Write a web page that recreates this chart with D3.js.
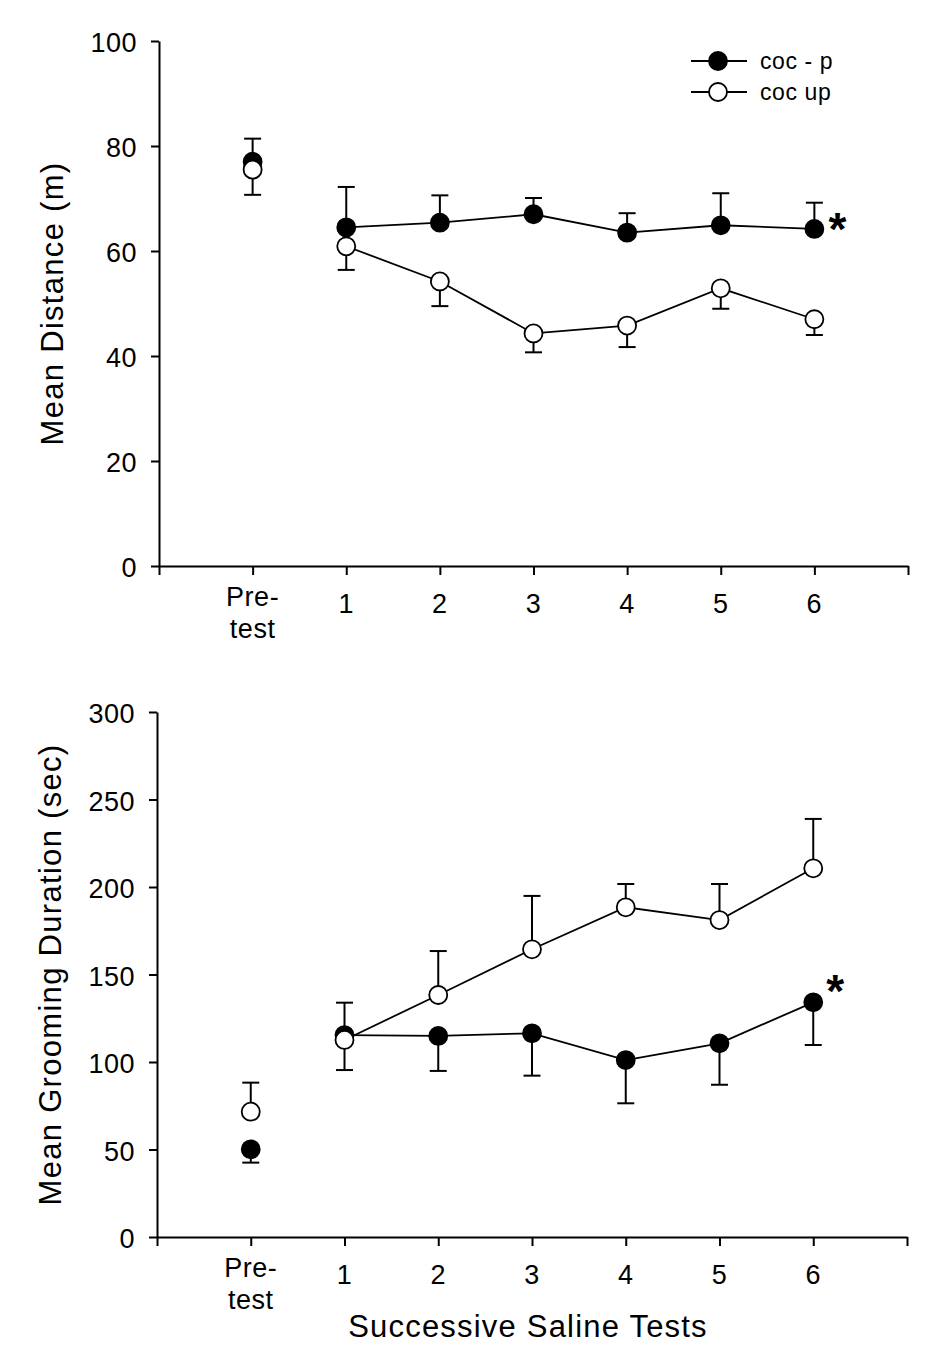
<!DOCTYPE html>
<html><head><meta charset="utf-8">
<script src="https://cdn.jsdelivr.net/npm/d3@7"></script>
<style>
body{margin:0;background:#fff}
svg{display:block;background:#fff}
text{font-family:"Liberation Sans",Arial,Helvetica,sans-serif;fill:#000}
</style>
</head><body>
<svg id="chart" width="941" height="1372"></svg>
<script>
// ---------- DATA ----------
const categories = ["Pre-test", "1", "2", "3", "4", "5", "6"];
const xTickLabels = ["", "Pre-\ntest", "1", "2", "3", "4", "5", "6", ""];
const seriesNames = ["coc - p", "coc up"];

// Panel A: Mean Distance (m)
const distCocP     = [77.0, 64.5, 65.4, 67.0, 63.5, 64.9, 64.2];
const distCocPErr  = [4.4, 7.7, 5.2, 3.1, 3.7, 6.1, 5.0];
const distCocUp    = [75.5, 60.9, 54.2, 44.3, 45.8, 52.9, 47.0];
const distCocUpErr = [4.8, 4.5, 4.7, 3.6, 4.1, 3.9, 3.0];
const distTicks    = [0, 20, 40, 60, 80, 100];

// Panel B: Mean Grooming Duration (sec)
const groomCocP     = [50.1, 115.4, 114.9, 116.4, 101.1, 110.7, 134.1];
const groomCocPErr  = [7.6, 20.0, 20.0, 24.2, 24.7, 23.7, 24.4];
const groomCocUp    = [71.6, 112.6, 138.3, 164.4, 188.4, 181.1, 210.7];
const groomCocUpErr = [16.6, 21.3, 25.1, 30.5, 13.3, 20.6, 28.2];
const groomTicks    = [0, 50, 100, 150, 200, 250, 300];

const yTitles = ["Mean Distance (m)", "Mean Grooming Duration (sec)"];
const xTitle = "Successive Saline Tests";
const starLabel = "*";

// ---------- DRAW ----------
const svg = d3.select("#chart");

function drawPanel(cfg) {
  const g = svg.append("g");
  const x = d3.scaleLinear().domain([0, 8]).range([cfg.left, cfg.right]);
  const y = d3.scaleLinear().domain([0, d3.max(cfg.ticks)]).range([cfg.bottom, cfg.top]);

  // y axis
  const ya = g.append("g").attr("transform", `translate(${cfg.left},0)`)
    .call(d3.axisLeft(y).tickValues(cfg.ticks).tickSize(8).tickSizeOuter(0).tickPadding(14));
  ya.select(".domain").attr("stroke", "#000").attr("stroke-width", 2);
  ya.selectAll(".tick line").attr("stroke", "#000").attr("stroke-width", 2);
  ya.selectAll(".tick text").attr("font-size", 27).attr("letter-spacing", "0.5px")
    .attr("dy", "0.4em").attr("font-family", "Liberation Sans, Arial, sans-serif").attr("fill", "#000");

  // x axis
  const xa = g.append("g").attr("transform", `translate(0,${cfg.bottom})`)
    .call(d3.axisBottom(x).tickValues(d3.range(0, 9)).tickSize(9).tickSizeOuter(0).tickFormat(""));
  xa.select(".domain").attr("stroke", "#000").attr("stroke-width", 2);
  xa.selectAll(".tick line").attr("stroke", "#000").attr("stroke-width", 2);

  // x tick labels
  xTickLabels.forEach((lab, i) => {
    if (!lab) return;
    const lines = lab.split("\n");
    const t = g.append("text").attr("text-anchor", "middle").attr("font-size", 27)
      .attr("letter-spacing", "0.5px");
    if (lines.length === 1) {
      t.attr("x", x(i)).attr("y", cfg.bottom + 47).text(lines[0]);
    } else {
      lines.forEach((ln, k) => {
        t.append("tspan").attr("x", x(i)).attr("y", cfg.bottom + 40 + k * 32).text(ln);
      });
    }
  });

  // y title
  g.append("text")
    .attr("transform", `translate(${cfg.yTitleX},${(cfg.top + cfg.bottom) / 2}) rotate(-90)`)
    .attr("text-anchor", "middle").attr("font-size", 31).attr("letter-spacing", "1.3px")
    .text(cfg.yTitle);

  if (cfg.xTitle) {
    g.append("text").attr("x", (cfg.left + cfg.right) / 2 - 4).attr("y", cfg.bottom + 100)
      .attr("text-anchor", "middle").attr("font-size", 31).attr("letter-spacing", "1.2px")
      .text(cfg.xTitle);
  }

  const line = d3.line().x(d => x(d.i + 1)).y(d => y(d.v));

  // error bars + lines for each series, then markers
  cfg.series.forEach(s => {
    const pts = s.values.map((v, i) => ({ i, v, e: s.err[i] }));
    const eb = g.append("g").attr("stroke", "#000").attr("stroke-width", 2);
    pts.forEach(p => {
      const yEnd = y(p.v + s.side * p.e);
      eb.append("line").attr("x1", x(p.i + 1)).attr("x2", x(p.i + 1))
        .attr("y1", y(p.v)).attr("y2", yEnd);
      eb.append("line").attr("x1", x(p.i + 1) - 8.5).attr("x2", x(p.i + 1) + 8.5)
        .attr("y1", yEnd).attr("y2", yEnd);
    });
    g.append("path").datum(pts.slice(1)).attr("d", line)
      .attr("fill", "none").attr("stroke", "#000").attr("stroke-width", 1.8);
  });
  cfg.series.forEach(s => {
    g.selectAll(null).data(s.values).enter().append("circle")
      .attr("cx", (v, i) => x(i + 1)).attr("cy", v => y(v)).attr("r", 9)
      .attr("fill", s.fill).attr("stroke", "#000").attr("stroke-width", 1.8);
  });

  // significance star
  const sp = cfg.series[cfg.star.s];
  const last = sp.values.length - 1;
  g.append("text").attr("x", x(last + 1) + cfg.star.dx).attr("y", y(sp.values[last]) + cfg.star.dy)
    .attr("text-anchor", "middle").attr("font-size", 46).attr("font-weight", "bold").text(starLabel);

  // legend
  if (cfg.legend) {
    const lg = g.append("g");
    cfg.series.forEach((s, k) => {
      const ry = cfg.legend.y + k * cfg.legend.dy;
      lg.append("line").attr("x1", cfg.legend.x).attr("x2", cfg.legend.x + 56)
        .attr("y1", ry).attr("y2", ry).attr("stroke", "#000").attr("stroke-width", 1.8);
      lg.append("circle").attr("cx", cfg.legend.x + 27).attr("cy", ry).attr("r", 9)
        .attr("fill", s.fill).attr("stroke", "#000").attr("stroke-width", 1.8);
      lg.append("text").attr("x", cfg.legend.x + 69).attr("y", ry + 8)
        .attr("font-size", 23).attr("letter-spacing", "0.6px").text(seriesNames[k]);
    });
  }
}

drawPanel({
  left: 159, right: 908, top: 41, bottom: 566, ticks: distTicks,
  yTitle: yTitles[0], yTitleX: 63,
  series: [
    { values: distCocP, err: distCocPErr, side: 1, fill: "#000" },
    { values: distCocUp, err: distCocUpErr, side: -1, fill: "#fff" }
  ],
  star: { s: 0, dx: 23, dy: 16 },
  legend: { x: 691, y: 61, dy: 31 }
});

drawPanel({
  left: 157, right: 907, top: 712, bottom: 1237, ticks: groomTicks,
  yTitle: yTitles[1], yTitleX: 61, xTitle: xTitle,
  series: [
    { values: groomCocP, err: groomCocPErr, side: -1, fill: "#000" },
    { values: groomCocUp, err: groomCocUpErr, side: 1, fill: "#fff" }
  ],
  star: { s: 0, dx: 22, dy: 5 }
});
</script>
</body></html>
